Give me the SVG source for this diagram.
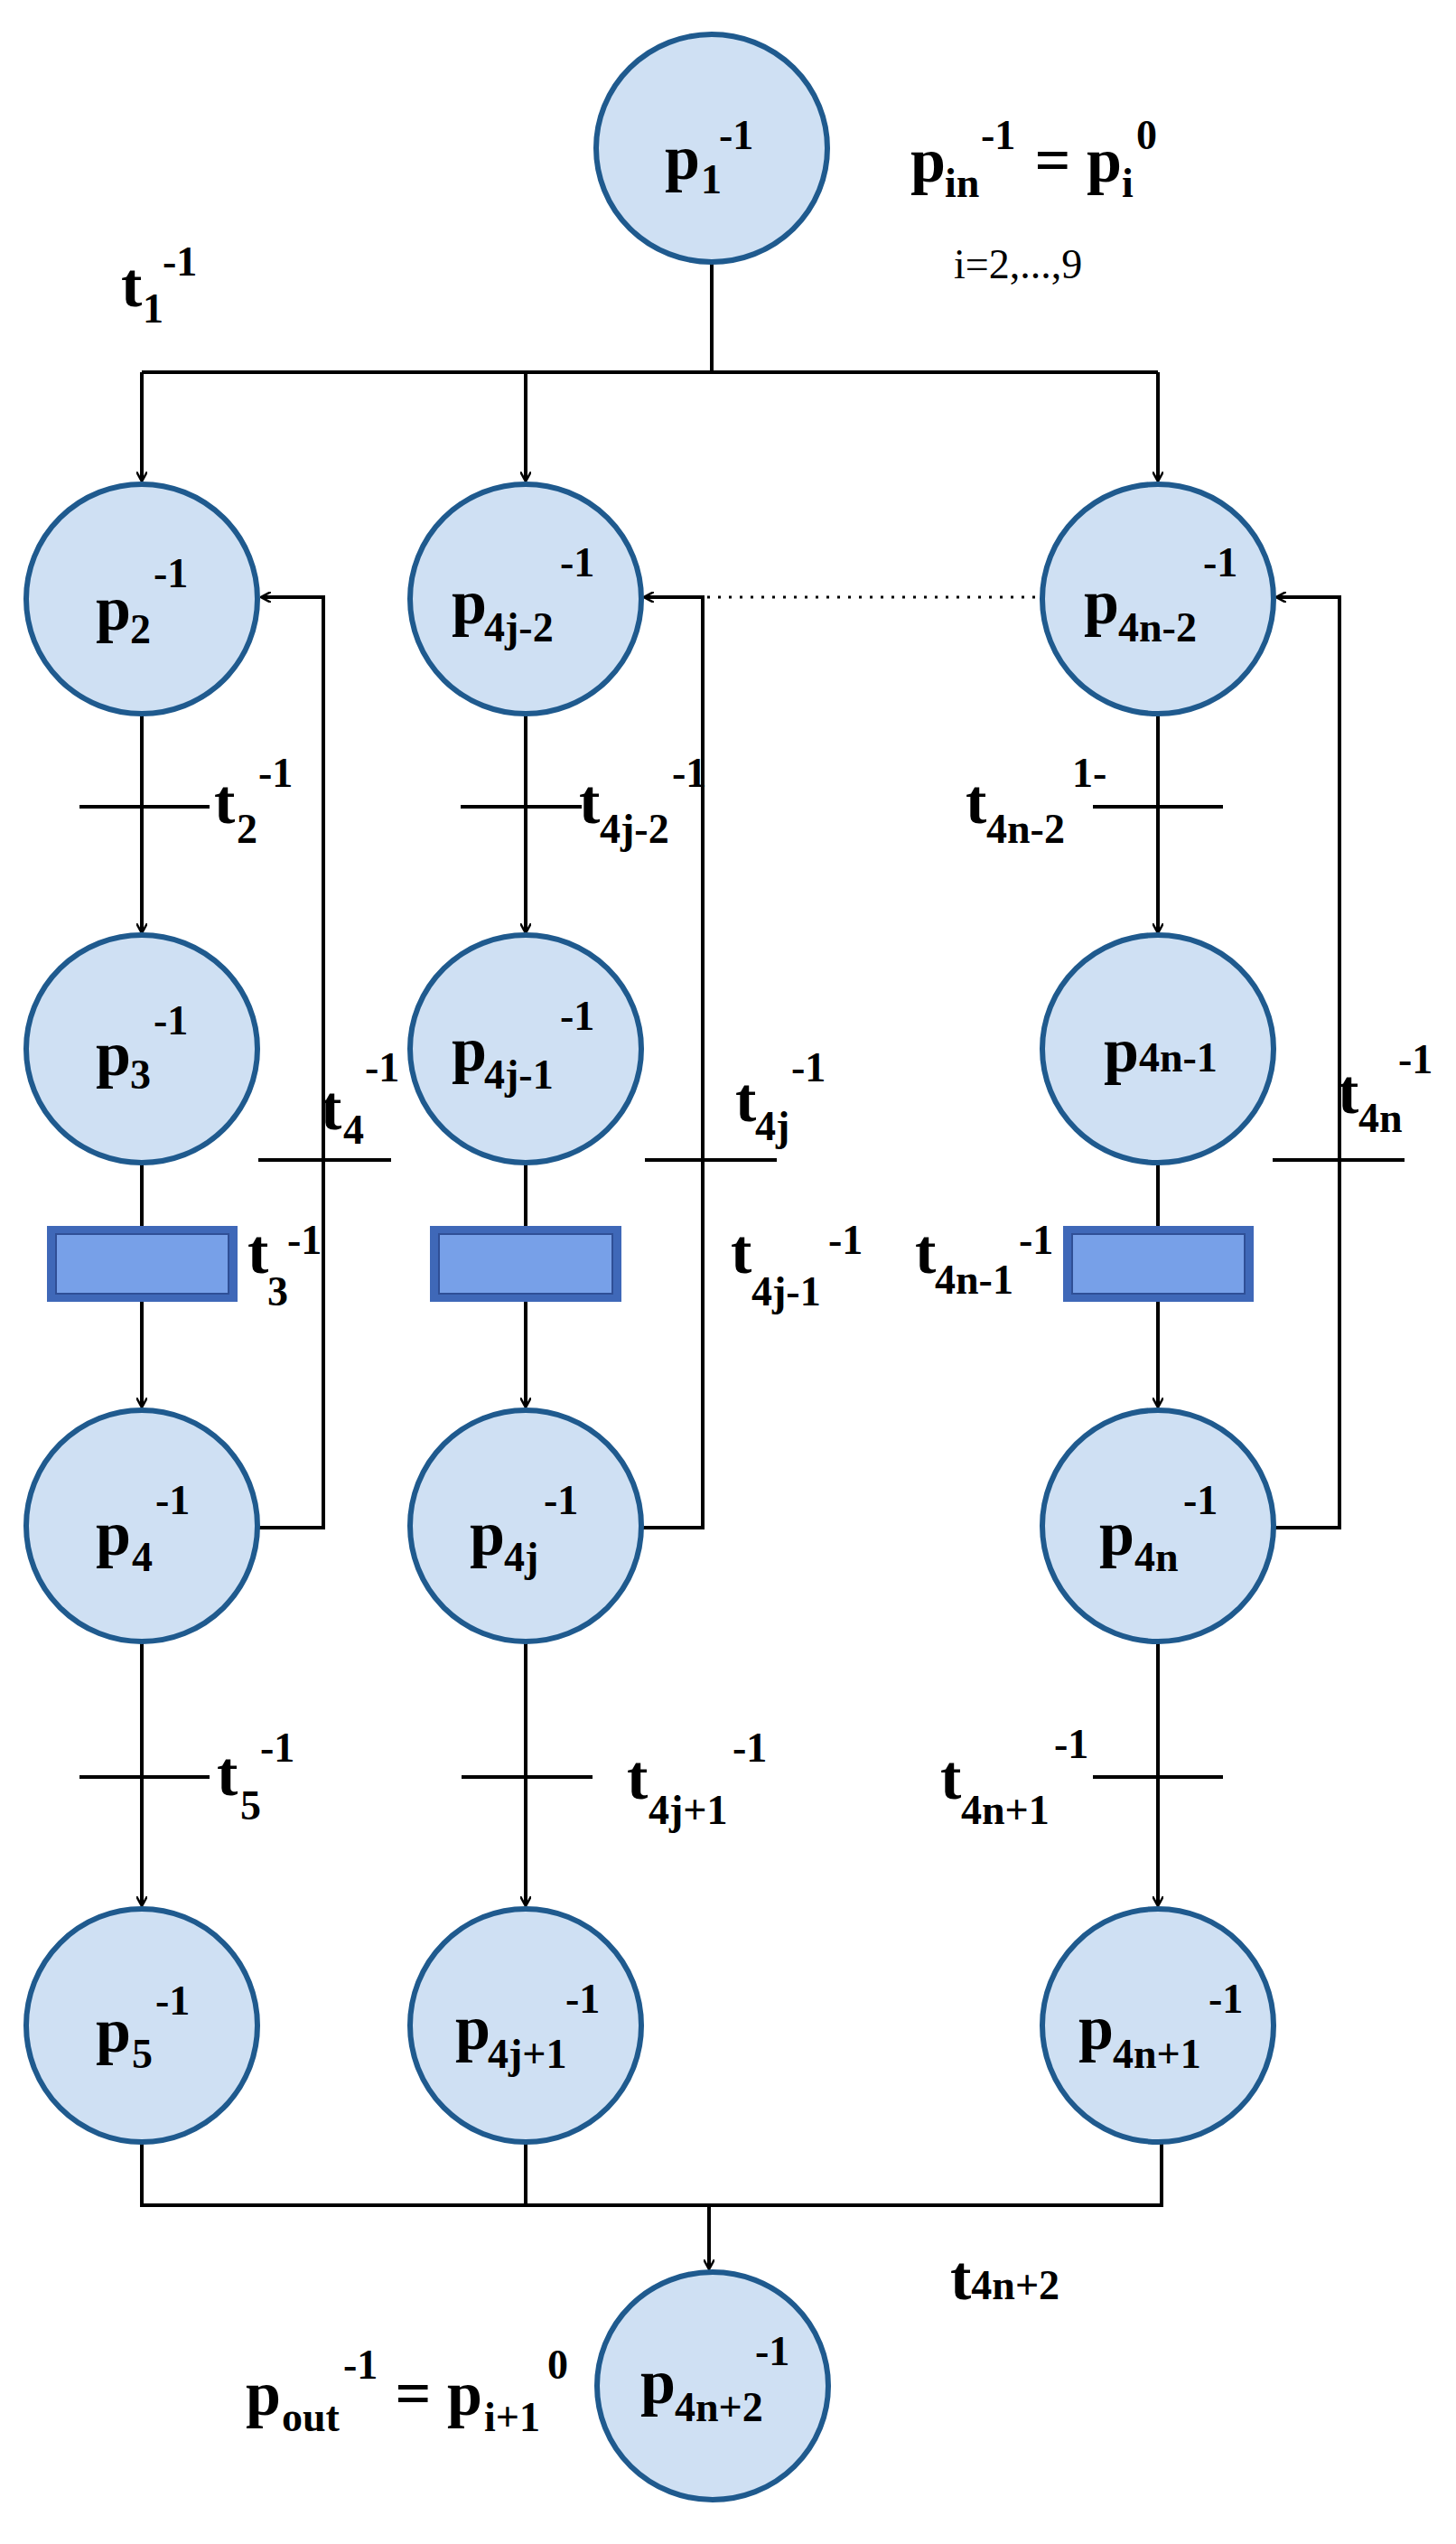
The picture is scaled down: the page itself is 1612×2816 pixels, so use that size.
<svg xmlns="http://www.w3.org/2000/svg" width="1612" height="2816" viewBox="0 0 1612 2816">
<style>
.pl{fill:#cfe0f3;stroke:#1f5a8e;stroke-width:6}
.ln{fill:none;stroke:#000;stroke-width:4}
.ar{fill:none;stroke:#000;stroke-width:4;marker-end:url(#a)}
.tb{stroke:#000;stroke-width:4}
.t{font-family:"Liberation Serif",serif;font-weight:bold;font-size:70px;fill:#000}
.s{font-size:46px}
.n{font-family:"Liberation Serif",serif;font-size:46px;fill:#000}
</style>
<defs>
<marker id="a" markerWidth="12" markerHeight="12" refX="10" refY="6" orient="auto" markerUnits="userSpaceOnUse" viewBox="0 0 12 12">
<path d="M0,0 L11,6 L0,12" fill="none" stroke="#000" stroke-width="2.5"/>
</marker>
</defs>
<g id="connectors">
<path class="ln" d="M788,290 V412 M157,412 H1282"/>
<path class="ar" d="M157,412 V532"/>
<path class="ar" d="M582,412 V532"/>
<path class="ar" d="M1282,412 V532"/>
<path class="ar" d="M157,790 V1032"/>
<path class="ar" d="M582,790 V1032"/>
<path class="ar" d="M1282,790 V1032"/>
<path class="ln" d="M157,1286 V1357 M582,1286 V1357 M1282,1286 V1357"/>
<path class="ar" d="M157,1441 V1557"/>
<path class="ar" d="M582,1441 V1557"/>
<path class="ar" d="M1282,1441 V1557"/>
<path class="ar" d="M285,1691 H358 V661 H290"/>
<path class="ar" d="M710,1691 H778 V661 H714"/>
<path class="ar" d="M1410,1691 H1483 V661 H1414"/>
<path d="M783,661 H1152" fill="none" stroke="#000" stroke-width="3" stroke-dasharray="3,9"/>
<path class="ar" d="M157,1817 V2109"/>
<path class="ar" d="M582,1817 V2109"/>
<path class="ar" d="M1282,1817 V2109"/>
<path class="ln" d="M157,2371 V2441 H1286 V2371 M582,2371 V2441"/>
<path class="ar" d="M785,2441 V2511"/>
</g>
<g id="transitions">
<path class="tb" d="M88,893 H232 M510,893 H644 M1210,893 H1354"/>
<path class="tb" d="M286,1284 H433 M714,1284 H860 M1409,1284 H1555"/>
<path class="tb" d="M88,1967 H232 M511,1967 H656 M1210,1967 H1354"/>
<g id="t3"><rect x="52" y="1357" width="211" height="84" fill="#3f68b8"/><rect x="62" y="1366" width="191" height="66" fill="#77a0e8" stroke="#2f4f96" stroke-width="2"/></g>
<g id="t4j-1"><rect x="476" y="1357" width="212" height="84" fill="#3f68b8"/><rect x="486" y="1366" width="192" height="66" fill="#77a0e8" stroke="#2f4f96" stroke-width="2"/></g>
<g id="t4n-1"><rect x="1177" y="1357" width="211" height="84" fill="#3f68b8"/><rect x="1187" y="1366" width="191" height="66" fill="#77a0e8" stroke="#2f4f96" stroke-width="2"/></g>
</g>
<g id="p1"><ellipse class="pl" cx="788" cy="164" rx="128" ry="126"/><text class="t" x="736" y="198">p<tspan class="s" x="776" y="214">1</tspan><tspan class="s" x="796" y="165">-1</tspan></text></g>
<g id="p2"><ellipse class="pl" cx="157" cy="663" rx="128" ry="127"/><text class="t" x="106" y="697">p<tspan class="s" x="144" y="712">2</tspan><tspan class="s" x="170" y="650">-1</tspan></text></g>
<g id="p4j-2"><ellipse class="pl" cx="582" cy="663" rx="128" ry="127"/><text class="t" x="500" y="690">p<tspan class="s" x="536" y="710">4j-2</tspan><tspan class="s" x="620" y="638">-1</tspan></text></g>
<g id="p4n-2"><ellipse class="pl" cx="1282" cy="663" rx="128" ry="127"/><text class="t" x="1200" y="690">p<tspan class="s" x="1238" y="710">4n-2</tspan><tspan class="s" x="1332" y="638">-1</tspan></text></g>
<g id="p3"><ellipse class="pl" cx="157" cy="1161" rx="128" ry="126"/><text class="t" x="106" y="1190">p<tspan class="s" x="144" y="1205">3</tspan><tspan class="s" x="170" y="1145">-1</tspan></text></g>
<g id="p4j-1"><ellipse class="pl" cx="582" cy="1161" rx="128" ry="126"/><text class="t" x="500" y="1185">p<tspan class="s" x="536" y="1205">4j-1</tspan><tspan class="s" x="620" y="1140">-1</tspan></text></g>
<g id="p4n-1"><ellipse class="pl" cx="1282" cy="1161" rx="128" ry="126"/><text class="t" x="1222" y="1186">p<tspan class="s">4n-1</tspan></text></g>
<g id="p4"><ellipse class="pl" cx="157" cy="1689" rx="128" ry="128"/><text class="t" x="106" y="1721">p<tspan class="s" x="146" y="1739">4</tspan><tspan class="s" x="172" y="1676">-1</tspan></text></g>
<g id="p4j"><ellipse class="pl" cx="582" cy="1689" rx="128" ry="128"/><text class="t" x="520" y="1721">p<tspan class="s" x="558" y="1739">4j</tspan><tspan class="s" x="602" y="1676">-1</tspan></text></g>
<g id="p4n"><ellipse class="pl" cx="1282" cy="1689" rx="128" ry="128"/><text class="t" x="1217" y="1721">p<tspan class="s" x="1256" y="1739">4n</tspan><tspan class="s" x="1310" y="1676">-1</tspan></text></g>
<g id="p5"><ellipse class="pl" cx="157" cy="2242" rx="128" ry="129"/><text class="t" x="106" y="2271">p<tspan class="s" x="146" y="2289">5</tspan><tspan class="s" x="172" y="2230">-1</tspan></text></g>
<g id="p4j+1"><ellipse class="pl" cx="582" cy="2242" rx="128" ry="129"/><text class="t" x="504" y="2268">p<tspan class="s" x="540" y="2289">4j+1</tspan><tspan class="s" x="626" y="2228">-1</tspan></text></g>
<g id="p4n+1"><ellipse class="pl" cx="1282" cy="2242" rx="128" ry="129"/><text class="t" x="1194" y="2268">p<tspan class="s" x="1232" y="2289">4n+1</tspan><tspan class="s" x="1338" y="2228">-1</tspan></text></g>
<g id="p4n+2"><ellipse class="pl" cx="789" cy="2641" rx="128" ry="126"/><text class="t" x="709" y="2660">p<tspan class="s" x="747" y="2680">4n+2</tspan><tspan class="s" x="836" y="2618">-1</tspan></text></g>
<g id="labels">
<text class="t" x="1008" y="201">p<tspan class="s" x="1046" y="218">in</tspan><tspan class="s" x="1086" y="165">-1</tspan><tspan x="1128" y="201"> = p</tspan><tspan class="s" x="1242" y="218">i</tspan><tspan class="s" x="1258" y="165">0</tspan></text>
<text class="n" x="1056" y="308">i=2,...,9</text>
<text class="t" x="134" y="339">t<tspan class="s" x="158" y="357">1</tspan><tspan class="s" x="180" y="305">-1</tspan></text>
<text class="t" x="237" y="911">t<tspan class="s" x="262" y="933">2</tspan><tspan class="s" x="286" y="871">-1</tspan></text>
<text class="t" x="641" y="911">t<tspan class="s" x="664" y="933">4j-2</tspan><tspan class="s" x="744" y="871">-1</tspan></text>
<text class="t" x="1069" y="911">t<tspan class="s" x="1092" y="933">4n-2</tspan><tspan class="s" x="1187" y="871">1-</tspan></text>
<text class="t" x="355" y="1250">t<tspan class="s" x="380" y="1266">4</tspan><tspan class="s" x="404" y="1197">-1</tspan></text>
<text class="t" x="814" y="1241">t<tspan class="s" x="836" y="1262">4j</tspan><tspan class="s" x="876" y="1197">-1</tspan></text>
<text class="t" x="1481" y="1232">t<tspan class="s" x="1504" y="1253">4n</tspan><tspan class="s" x="1548" y="1188">-1</tspan></text>
<text class="t" x="274" y="1409">t<tspan class="s" x="296" y="1445">3</tspan><tspan class="s" x="318" y="1388">-1</tspan></text>
<text class="t" x="809" y="1409">t<tspan class="s" x="832" y="1445">4j-1</tspan><tspan class="s" x="917" y="1388">-1</tspan></text>
<text class="t" x="1013" y="1409">t<tspan class="s" x="1035" y="1432">4n-1</tspan><tspan class="s" x="1128" y="1388">-1</tspan></text>
<text class="t" x="240" y="1987">t<tspan class="s" x="266" y="2014">5</tspan><tspan class="s" x="288" y="1950">-1</tspan></text>
<text class="t" x="694" y="1991">t<tspan class="s" x="718" y="2019">4j+1</tspan><tspan class="s" x="811" y="1950">-1</tspan></text>
<text class="t" x="1041" y="1991">t<tspan class="s" x="1064" y="2019">4n+1</tspan><tspan class="s" x="1167" y="1946">-1</tspan></text>
<text class="t" x="1052" y="2545">t<tspan class="s">4n+2</tspan></text>
<text class="t" x="272" y="2673">p<tspan class="s" x="312" y="2691">out</tspan><tspan class="s" x="380" y="2633">-1</tspan><tspan x="420" y="2673"> = p</tspan><tspan class="s" x="536" y="2691">i+1</tspan><tspan class="s" x="606" y="2633">0</tspan></text>
</g>
</svg>
